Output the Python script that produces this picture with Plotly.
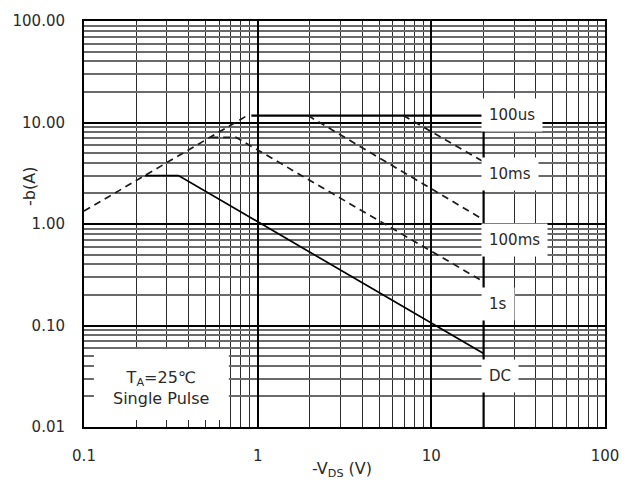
import numpy as np
import plotly.graph_objects as go

# ---- data ----
rds_v = [0.1, 0.87]
rds_i = [1.34, 11.7]

us100_v = [0.92, 20]
us100_i = [11.7, 11.7]

ms10_v = [6.9, 20]
ms10_i = [11.7, 4.1]

ms100_v = [1.95, 20]
ms100_i = [11.7, 1.1]

s1_v = [0.54, 0.75, 20]
s1_i = [7.15, 7.15, 0.27]

dc_v = [0.225, 0.35, 20]
dc_i = [3.0, 3.0, 0.053]

vmax_v = [20, 20]
vmax_i = [0.01, 11.7]

x_tickvals = [0.1, 1, 10, 100]
x_ticktext = ["0.1", "1", "10", "100"]
y_tickvals = [0.01, 0.1, 1, 10, 100]
y_ticktext = ["0.01", "0.10", "1.00", "10.00", "100.00"]

curve_labels = ["100us", "10ms", "100ms", "1s", "DC"]
label_y = [11.9, 3.13, 0.70, 0.164, 0.032]

FONT = "DejaVu Sans"
TXT = "#2a2a2a"

fig = go.Figure()

def add(v, i, dash=None, width=1.6, color="black"):
    fig.add_trace(go.Scatter(x=v, y=i, mode="lines",
                             line=dict(color=color, width=width, dash=dash),
                             showlegend=False, hoverinfo="skip"))

dash_style = "7px,5px"
DASH_COL = "#1a1a1a"
add(rds_v, rds_i, dash=dash_style, width=1.7, color=DASH_COL)
add(us100_v, us100_i, width=2.2)
add(ms10_v, ms10_i, dash=dash_style, width=1.7, color=DASH_COL)
add(ms100_v, ms100_i, dash=dash_style, width=1.7, color=DASH_COL)
add(s1_v, s1_i, dash=dash_style, width=1.7, color=DASH_COL)
add(dc_v, dc_i, width=1.7)
add(vmax_v, vmax_i, width=2.2)

x_minor = [m * 10.0 ** e for e in range(-1, 2) for m in range(2, 10)]
y_minor = [m * 10.0 ** e for e in range(-2, 2) for m in range(2, 10)]

fig.update_xaxes(type="log", range=[-1, 2],
                 tickmode="array", tickvals=x_tickvals, ticktext=x_ticktext,
                 showgrid=True, gridcolor="black", gridwidth=2,
                 minor=dict(tickmode="array", tickvals=x_minor, showgrid=True,
                            gridcolor="#2a2a2a", gridwidth=1, ticks=""),
                 showline=True, linecolor="black", linewidth=2, mirror=True,
                 ticks="", ticklabelstandoff=14,
                 tickfont=dict(family=FONT, size=15, color=TXT),
                 zeroline=False)
fig.update_yaxes(type="log", range=[-2, 2],
                 tickmode="array", tickvals=y_tickvals, ticktext=y_ticktext,
                 showgrid=True, gridcolor="black", gridwidth=2,
                 minor=dict(tickmode="array", tickvals=y_minor, showgrid=True,
                            gridcolor="#6a6a6a", gridwidth=1.5, ticks=""),
                 showline=True, linecolor="black", linewidth=2, mirror=True,
                 ticks="", ticklabelstandoff=14,
                 tickfont=dict(family=FONT, size=15, color=TXT),
                 zeroline=False)

annotations = []
for lab, yv in zip(curve_labels, label_y):
    annotations.append(dict(x=np.log10(20), y=np.log10(yv), xref="x", yref="y",
                            text=lab, showarrow=False, xanchor="left",
                            yanchor="middle", xshift=-3, bgcolor="white",
                            borderpad=7,
                            font=dict(family=FONT, size=15, color=TXT)))

# axis titles
annotations.append(dict(x=0.496, y=-0.104, xref="paper", yref="paper",
                        xanchor="center", yanchor="middle",
                        text="-V<sub>DS</sub> (V)", showarrow=False,
                        font=dict(family=FONT, size=16, color=TXT)))
annotations.append(dict(x=-0.105, y=0.592, xref="paper", yref="paper",
                        xanchor="center", yanchor="middle",
                        text="-b(A)", showarrow=False, textangle=-90,
                        font=dict(family=FONT, size=16, color=TXT)))
# condition box text
annotations.append(dict(x=0.148, y=0.095, xref="paper", yref="paper",
                        xanchor="center", yanchor="middle",
                        text="T<sub>A</sub>=25℃<br>Single Pulse", showarrow=False,
                        align="center",
                        font=dict(family=FONT, size=16, color=TXT)))

fig.add_shape(type="rect", xref="paper", yref="paper",
              x0=0.019, x1=0.278, y0=0.017, y1=0.192,
              fillcolor="white", line=dict(width=0), layer="above")

fig.update_layout(width=631, height=488,
                  margin=dict(l=83, r=26, t=15, b=61),
                  paper_bgcolor="white", plot_bgcolor="white",
                  annotations=annotations)

fig.write_html("out.html")
